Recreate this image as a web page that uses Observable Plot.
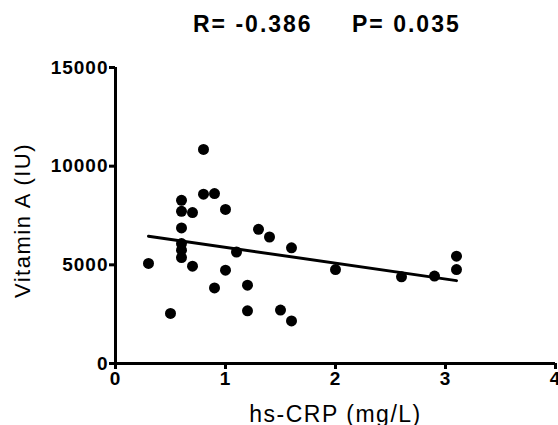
<!DOCTYPE html>
<html>
<head>
<meta charset="utf-8">
<script src="https://cdn.jsdelivr.net/npm/d3@7"></script>
<script src="https://cdn.jsdelivr.net/npm/@observablehq/plot@0.6"></script>
<style>
  body { margin: 0; background: white; font-family: "Liberation Sans", Arial, sans-serif; }
  #title { position: relative; width: 558px; height: 48px; }
  #title span { position: absolute; top: 11px; font: bold 23px "Liberation Sans", Arial, sans-serif; letter-spacing: 2px; white-space: pre; color: black; }
  .lbl { letter-spacing: 1.5px; }
</style>
</head>
<body>
<div id="title"><span style="left:193px">R= -0.386</span><span style="left:352px">P= 0.035</span></div>
<div id="chart"></div>
<script>
// hs-CRP (mg/L)
const crp = [0.80, 0.80, 0.90, 0.60, 0.60, 0.70, 1.00, 0.60, 0.60, 0.60, 0.60, 0.30, 0.70, 1.00, 1.10, 1.30, 1.40, 1.60, 2.00, 0.90, 1.20, 0.50, 1.20, 1.50, 1.60, 3.10, 3.10, 2.60, 2.90];
// Vitamin A (IU)
const vitA = [10850, 8580, 8610, 8270, 7710, 7650, 7810, 6870, 6080, 5740, 5370, 5070, 4930, 4730, 5650, 6800, 6410, 5860, 4760, 3830, 3970, 2540, 2670, 2710, 2160, 5440, 4760, 4390, 4430];
// regression line endpoints
const fitX = [0.3, 3.1];
const fitY = [6450, 4200];
const xTicks = [0, 1, 2, 3, 4];
const yTicks = [0, 5000, 10000, 15000];

const points = crp.map((x, i) => ({x, y: vitA[i]}));
const fit = fitX.map((x, i) => ({x, y: fitY[i]}));

const chart = Plot.plot({
  width: 558,
  height: 377,
  marginTop: 19,
  marginBottom: 62,
  marginLeft: 115,
  marginRight: 3,
  x: {domain: [0, 4]},
  y: {domain: [0, 15000]},
  style: {fontFamily: "'Liberation Sans', Arial, sans-serif", fontSize: "19px", fontWeight: "bold", color: "black", letterSpacing: "1px", overflow: "visible"},
  marks: [
    Plot.axisY({ticks: yTicks, tickSize: 6, tickPadding: 1, strokeWidth: 3, tickFormat: d => String(d), label: null, fontSize: 19, fontWeight: "bold"}),
    Plot.axisX({ticks: xTicks, tickSize: 6, tickPadding: 2, strokeWidth: 3, tickFormat: d => String(d), label: null, fontSize: 19, fontWeight: "bold"}),
    Plot.ruleX([0], {y1: 0, y2: 15000, strokeWidth: 3}),
    Plot.ruleY([0], {x1: 0, x2: 4, strokeWidth: 3}),
    Plot.dot(points, {x: "x", y: "y", r: 5.5, fill: "black", stroke: null}),
    Plot.line(fit, {x: "x", y: "y", strokeWidth: 3, stroke: "black"}),
    Plot.text(["Vitamin A (IU)"], {frameAnchor: "left", textAnchor: "middle", rotate: -90, dx: -93, dy: 5, fontSize: 22, fontWeight: "normal", className: "lbl"}),
    Plot.text(["hs-CRP (mg/L)"], {frameAnchor: "bottom", lineAnchor: "bottom", dy: 58, fontSize: 23, fontWeight: "normal", className: "lbl"})
  ]
});
document.getElementById("chart").appendChild(chart);
</script>
</body>
</html>
